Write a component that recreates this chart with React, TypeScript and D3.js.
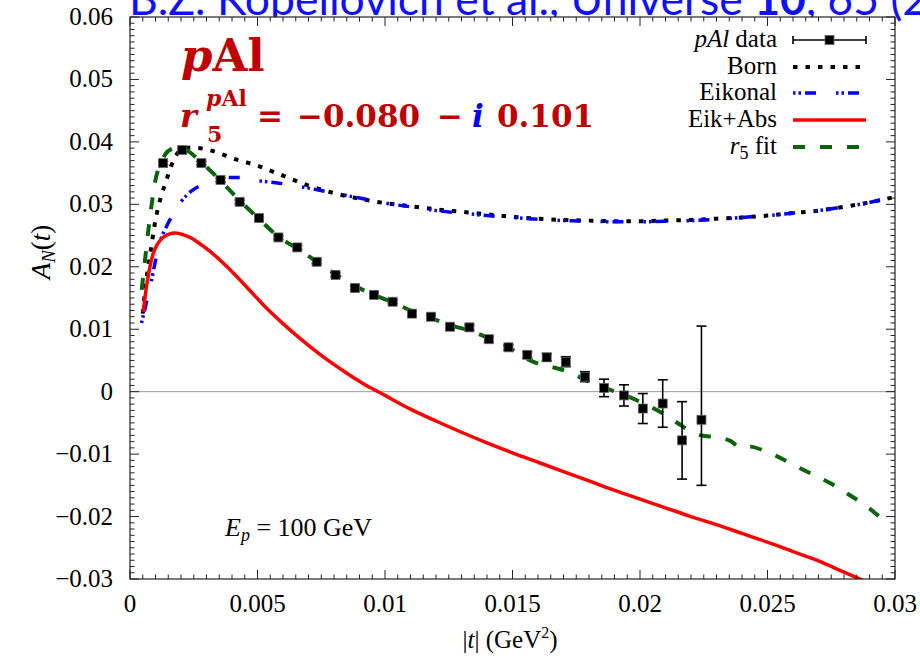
import React from "react";
import * as d3 from "d3";

const WIDTH = 920;
const HEIGHT = 661;
const PLOT = { left: 130, right: 895, top: 17, bottom: 579 };

const xTickValues = [0, 0.005, 0.01, 0.015, 0.02, 0.025, 0.03];
const xTickLabels = ["0", "0.005", "0.01", "0.015", "0.02", "0.025", "0.03"];
const yTickValues = [-0.03, -0.02, -0.01, 0, 0.01, 0.02, 0.03, 0.04, 0.05, 0.06];
const yTickLabels = ["−0.03", "−0.02", "−0.01", "0", "0.01", "0.02", "0.03", "0.04", "0.05", "0.06"];

// pAl measurements: |t|, A_N, lower and upper error
const dataT = [
  0.0013, 0.00205, 0.0028, 0.00355, 0.0043, 0.00506, 0.00582, 0.00656, 0.00732, 0.00806,
  0.00882, 0.00957, 0.0103, 0.01106, 0.0118, 0.01255, 0.01331, 0.01407, 0.01484, 0.01558,
  0.01634, 0.01709, 0.01784, 0.01859, 0.01937, 0.02011, 0.02089, 0.02165, 0.02241,
];
const dataA = [
  0.0366, 0.0387, 0.0366, 0.0339, 0.0304, 0.0278, 0.0247, 0.0231, 0.0208, 0.0187,
  0.0166, 0.0155, 0.0144, 0.0125, 0.012, 0.0104, 0.0103, 0.0084, 0.0071, 0.0059,
  0.0055, 0.0048, 0.0024, 0.0006, -0.0006, -0.0027, -0.0019, -0.0078, -0.0045,
];
const dataErrLo = [
  0.0003, 0.0003, 0.0003, 0.0003, 0.0003, 0.0003, 0.0003, 0.0003, 0.0003, 0.0003,
  0.0003, 0.0003, 0.0003, 0.0003, 0.0003, 0.0003, 0.0004, 0.0004, 0.0004, 0.0005,
  0.0006, 0.0008, 0.0008, 0.0014, 0.0017, 0.0024, 0.0038, 0.0062, 0.0105,
];
const dataErrHi = [
  0.0003, 0.0003, 0.0003, 0.0003, 0.0003, 0.0003, 0.0003, 0.0003, 0.0003, 0.0003,
  0.0003, 0.0003, 0.0003, 0.0003, 0.0003, 0.0003, 0.0004, 0.0004, 0.0004, 0.0005,
  0.0006, 0.0008, 0.0008, 0.0014, 0.0017, 0.0024, 0.0038, 0.0062, 0.015,
];

// Born approximation
const bornT = [
  0.0005, 0.0006, 0.0008, 0.001, 0.0012, 0.0014, 0.0016, 0.0018, 0.002, 0.0024,
  0.003, 0.0035, 0.004, 0.0045, 0.005, 0.0055, 0.006, 0.007, 0.008, 0.009,
  0.01, 0.011, 0.012, 0.013, 0.014, 0.015, 0.016, 0.017, 0.018, 0.019,
  0.02, 0.021, 0.022, 0.023, 0.024, 0.025, 0.026, 0.027, 0.028, 0.029, 0.0299,
];
const bornA = [
  0.0125, 0.0165, 0.0222, 0.0275, 0.031, 0.0335, 0.036, 0.0378, 0.0387, 0.0391,
  0.0388, 0.0382, 0.0374, 0.0368, 0.0362, 0.0354, 0.0346, 0.033, 0.0318, 0.0309,
  0.0302, 0.0297, 0.0292, 0.0288, 0.0284, 0.028, 0.0277, 0.0275, 0.0274, 0.0273,
  0.0273, 0.0274, 0.0275, 0.0277, 0.0279, 0.0282, 0.0286, 0.029, 0.0296, 0.0303, 0.0311,
];

// Eikonal
const eikT = [
  0.00045, 0.0006, 0.0008, 0.001, 0.0012, 0.0014, 0.0017, 0.002, 0.0024, 0.0028,
  0.0033, 0.0038, 0.0043, 0.005, 0.006, 0.007, 0.008, 0.009, 0.01, 0.011,
  0.012, 0.013, 0.014, 0.015, 0.016, 0.017, 0.018, 0.019, 0.02, 0.021,
  0.022, 0.023, 0.024, 0.025, 0.026, 0.027, 0.028, 0.029, 0.0299,
];
const eikA = [
  0.011, 0.0135, 0.017, 0.021, 0.0243, 0.0262, 0.0285, 0.0304, 0.0321, 0.0331,
  0.034, 0.0343, 0.0343, 0.0338, 0.0333, 0.0326, 0.0318, 0.031, 0.0302, 0.0296,
  0.029, 0.0286, 0.0282, 0.0279, 0.0276, 0.0274, 0.0273, 0.0272, 0.0272, 0.0273,
  0.0274, 0.0276, 0.0279, 0.0282, 0.0286, 0.029, 0.0296, 0.0303, 0.0312,
];

// Eikonal + absorption
const absT = [
  0.00052, 0.0006, 0.0007, 0.00078, 0.0009, 0.0011, 0.0013, 0.0015, 0.0018, 0.0021,
  0.0024, 0.0027, 0.0031, 0.0036, 0.0041, 0.0047, 0.0053, 0.006, 0.0067, 0.0075,
  0.0083, 0.0091, 0.01, 0.011, 0.012, 0.013, 0.014, 0.015, 0.016, 0.017,
  0.018, 0.019, 0.02, 0.021, 0.022, 0.023, 0.024, 0.025, 0.026, 0.027, 0.028, 0.0289,
];
const absA = [
  0.0128, 0.0155, 0.0182, 0.02, 0.022, 0.0238, 0.0247, 0.0252, 0.0254, 0.0251,
  0.0246, 0.0238, 0.0226, 0.0208, 0.0188, 0.0162, 0.0136, 0.0109, 0.0084, 0.0058,
  0.0035, 0.0014, -0.0006, -0.0028, -0.0047, -0.0065, -0.0082, -0.0098, -0.0113, -0.0128,
  -0.0143, -0.0158, -0.0172, -0.0186, -0.02, -0.0213, -0.0227, -0.0241, -0.0256, -0.0271, -0.0289, -0.0305,
];

// r5 fit
const fitT = [
  0.00046, 0.0006, 0.00072, 0.00085, 0.001, 0.0012, 0.0014, 0.0016, 0.0019, 0.0022,
  0.0028, 0.0035, 0.0043, 0.005, 0.0058, 0.0066, 0.0073, 0.008, 0.0088, 0.0095,
  0.0103, 0.011, 0.0118, 0.0126, 0.0133, 0.014, 0.0148, 0.0155, 0.016, 0.0166,
  0.0173, 0.018, 0.0187, 0.0193, 0.0201, 0.0209, 0.0215, 0.022, 0.0224, 0.023,
  0.0235, 0.024, 0.0243, 0.0249, 0.0255, 0.0261, 0.0267, 0.0272, 0.0277, 0.0282,
  0.0288, 0.0295,
];
const fitA = [
  0.0163, 0.0215, 0.0259, 0.03, 0.0339, 0.0365, 0.0381, 0.0388, 0.0391, 0.0387,
  0.0367, 0.034, 0.0306, 0.0279, 0.0249, 0.0228, 0.0209, 0.019, 0.017, 0.0156,
  0.0143, 0.013, 0.0118, 0.0106, 0.0098, 0.0087, 0.0072, 0.0054, 0.0045, 0.0039,
  0.003, 0.0016, 0.0005, -0.0004, -0.0018, -0.0035, -0.0051, -0.0064, -0.007, -0.0073,
  -0.0078, -0.009, -0.0088, -0.0095, -0.0106, -0.0119, -0.0131, -0.0141, -0.0152, -0.0165,
  -0.0181, -0.0204,
];

const BLUE = "#0000ff";
const TITLE_BLUE = "#1010ff";
const RED = "#ff0000";
const GREEN = "#0b640b";
const DARKRED = "#c00000";
const SERIF = "'Liberation Serif', 'Times New Roman', serif";
const MATHBOLD = "'DejaVu Serif', serif";

const x = d3.scaleLinear().domain([0, 0.03]).range([PLOT.left, PLOT.right]);
const y = d3.scaleLinear().domain([-0.03, 0.06]).range([PLOT.bottom, PLOT.top]);

const line = d3
  .line<[number, number]>()
  .x((d) => x(d[0]))
  .y((d) => y(d[1]))
  .curve(d3.curveMonotoneX);

const zip = (a: number[], b: number[]) => a.map((v, i) => [v, b[i]] as [number, number]);

const isMajor = (v: number, step: number) => Math.abs(v / step - Math.round(v / step)) < 1e-6;
const xMinor = d3.range(0, 0.03 + 1e-9, 0.0005).filter((v) => !isMajor(v, 0.005));
const yMinor = d3.range(-0.03, 0.06 + 1e-9, 0.001).filter((v) => !isMajor(v, 0.01));

const curveStyles = {
  born: { stroke: "#000", strokeWidth: 4, dash: "4.5,8" },
  eik: { stroke: BLUE, strokeWidth: 3.5, dash: "2.5,3,2.5,4,11,20" },
  abs: { stroke: RED, strokeWidth: 3.5, dash: undefined as string | undefined },
  fit: { stroke: GREEN, strokeWidth: 4, dash: "12,15" },
};

export default function App() {
  const MAJ = 9;
  const MIN = 4.5;
  const legendX0 = 793;
  const legendX1 = 866;
  const legendTextX = 777;
  const legendRows = [40, 67, 93, 120, 147];

  return (
    <svg
      width={WIDTH}
      height={HEIGHT}
      viewBox={`0 0 ${WIDTH} ${HEIGHT}`}
      style={{ position: "absolute", left: 0, top: 0, background: "#fff" }}
    >
      <defs>
        <clipPath id="plot-area">
          <rect x={PLOT.left} y={PLOT.top} width={PLOT.right - PLOT.left} height={PLOT.bottom - PLOT.top} />
        </clipPath>
      </defs>

      {/* citation banner, partly hidden behind the frame */}
      <text x={129} y={15} fontFamily="Lato, 'Open Sans', sans-serif" fontSize={44.5} fill={TITLE_BLUE}>
        B.Z. Kopeliovich et al., Universe <tspan fontWeight="bold">10</tspan>, 65 (2024)
      </text>
      <rect x={PLOT.left} y={PLOT.top} width={PLOT.right - PLOT.left} height={PLOT.bottom - PLOT.top} fill="#fff" />

      {/* zero line */}
      <line x1={PLOT.left} x2={PLOT.right} y1={y(0)} y2={y(0)} stroke="#9a9a9a" strokeWidth={1} />

      {/* model curves */}
      <g clipPath="url(#plot-area)" fill="none">
        <path d={line(zip(bornT, bornA)) || ""} stroke={curveStyles.born.stroke} strokeWidth={curveStyles.born.strokeWidth} strokeDasharray={curveStyles.born.dash} />
        <path d={line(zip(eikT, eikA)) || ""} stroke={curveStyles.eik.stroke} strokeWidth={curveStyles.eik.strokeWidth} strokeDasharray={curveStyles.eik.dash} />
        <path d={line(zip(absT, absA)) || ""} stroke={curveStyles.abs.stroke} strokeWidth={curveStyles.abs.strokeWidth} />
        <path d={line(zip(fitT, fitA)) || ""} stroke={curveStyles.fit.stroke} strokeWidth={curveStyles.fit.strokeWidth} strokeDasharray={curveStyles.fit.dash} />
      </g>

      {/* measurements */}
      <g>
        {dataT.map((t, i) => {
          const cx = x(t);
          const cy = y(dataA[i]);
          const yLo = y(dataA[i] - dataErrLo[i]);
          const yHi = y(dataA[i] + dataErrHi[i]);
          return (
            <g key={i}>
              <line x1={cx} x2={cx} y1={yLo} y2={yHi} stroke="#000" strokeWidth={1.6} />
              <line x1={cx - 5} x2={cx + 5} y1={yLo} y2={yLo} stroke="#000" strokeWidth={1.6} />
              <line x1={cx - 5} x2={cx + 5} y1={yHi} y2={yHi} stroke="#000" strokeWidth={1.6} />
              <rect x={cx - 4.5} y={cy - 4.5} width={9} height={9} fill="#000" stroke="#666" strokeWidth={0.8} />
            </g>
          );
        })}
      </g>

      {/* frame and ticks */}
      <g stroke="#222" strokeWidth={1}>
        <rect x={PLOT.left} y={PLOT.top} width={PLOT.right - PLOT.left} height={PLOT.bottom - PLOT.top} fill="none" strokeWidth={1.2} />
        {xTickValues.map((v) => (
          <g key={`xm${v}`}>
            <line x1={x(v)} x2={x(v)} y1={PLOT.bottom} y2={PLOT.bottom - MAJ} />
            <line x1={x(v)} x2={x(v)} y1={PLOT.top} y2={PLOT.top + MAJ} />
          </g>
        ))}
        {xMinor.map((v) => (
          <g key={`xn${v}`}>
            <line x1={x(v)} x2={x(v)} y1={PLOT.bottom} y2={PLOT.bottom - MIN} />
            <line x1={x(v)} x2={x(v)} y1={PLOT.top} y2={PLOT.top + MIN} />
          </g>
        ))}
        {yTickValues.map((v) => (
          <g key={`ym${v}`}>
            <line x1={PLOT.left} x2={PLOT.left + MAJ} y1={y(v)} y2={y(v)} />
            <line x1={PLOT.right} x2={PLOT.right - MAJ} y1={y(v)} y2={y(v)} />
          </g>
        ))}
        {yMinor.map((v) => (
          <g key={`yn${v}`}>
            <line x1={PLOT.left} x2={PLOT.left + MIN} y1={y(v)} y2={y(v)} />
            <line x1={PLOT.right} x2={PLOT.right - MIN} y1={y(v)} y2={y(v)} />
          </g>
        ))}
      </g>

      {/* tick labels */}
      <g fontFamily={SERIF} fontSize={25} fill="#000">
        {xTickValues.map((v, i) => (
          <text key={`xl${v}`} x={x(v)} y={612} textAnchor="middle">
            {xTickLabels[i]}
          </text>
        ))}
        {yTickValues.map((v, i) => (
          <text key={`yl${v}`} x={113} y={y(v) + 8} textAnchor="end">
            {yTickLabels[i]}
          </text>
        ))}
      </g>

      {/* axis titles */}
      <text x={510} y={648} textAnchor="middle" fontFamily={SERIF} fontSize={25}>
        |<tspan fontStyle="italic">t</tspan>| (GeV<tspan fontSize={16} dy={-10}>2</tspan><tspan dy={10}>)</tspan>
      </text>
      <text transform="translate(50,252) rotate(-90)" textAnchor="middle" fontFamily={SERIF} fontSize={27}>
        <tspan fontStyle="italic">A</tspan>
        <tspan fontStyle="italic" fontSize={19} dy={5}>N</tspan>
        <tspan dy={-5}>(</tspan>
        <tspan fontStyle="italic">t</tspan>)
      </text>

      {/* beam energy */}
      <text x={225} y={536} fontFamily={SERIF} fontSize={26}>
        <tspan fontStyle="italic">E</tspan>
        <tspan fontStyle="italic" fontSize={18} dy={5}>p</tspan>
        <tspan dy={-5}> = 100 GeV</tspan>
      </text>

      {/* legend */}
      <g fontFamily={SERIF} fontSize={25} textAnchor="end">
        <text x={legendTextX} y={legendRows[0] + 7}>
          <tspan fontStyle="italic">pAl</tspan> data
        </text>
        <text x={legendTextX} y={legendRows[1] + 7}>Born</text>
        <text x={legendTextX} y={legendRows[2] + 7}>Eikonal</text>
        <text x={legendTextX} y={legendRows[3] + 7}>Eik+Abs</text>
        <text x={legendTextX} y={legendRows[4] + 7}>
          <tspan fontStyle="italic">r</tspan>
          <tspan fontSize={18} dy={5}>5</tspan>
          <tspan dy={-5}> fit</tspan>
        </text>
      </g>
      <g fill="none">
        <line x1={legendX0} x2={legendX1} y1={legendRows[0]} y2={legendRows[0]} stroke="#000" strokeWidth={1.6} />
        <line x1={legendX0} x2={legendX0} y1={legendRows[0] - 4} y2={legendRows[0] + 4} stroke="#000" strokeWidth={1.6} />
        <line x1={legendX1} x2={legendX1} y1={legendRows[0] - 4} y2={legendRows[0] + 4} stroke="#000" strokeWidth={1.6} />
        <rect x={(legendX0 + legendX1) / 2 - 4.5} y={legendRows[0] - 4.5} width={9} height={9} fill="#000" stroke="#666" strokeWidth={0.8} />
        <line x1={legendX0} x2={legendX1} y1={legendRows[1]} y2={legendRows[1]} stroke={curveStyles.born.stroke} strokeWidth={curveStyles.born.strokeWidth} strokeDasharray={curveStyles.born.dash} />
        <line x1={legendX0} x2={legendX1} y1={legendRows[2]} y2={legendRows[2]} stroke={curveStyles.eik.stroke} strokeWidth={curveStyles.eik.strokeWidth} strokeDasharray={curveStyles.eik.dash} />
        <line x1={legendX0} x2={legendX1} y1={legendRows[3]} y2={legendRows[3]} stroke={curveStyles.abs.stroke} strokeWidth={curveStyles.abs.strokeWidth} />
        <line x1={legendX0} x2={legendX1} y1={legendRows[4]} y2={legendRows[4]} stroke={curveStyles.fit.stroke} strokeWidth={curveStyles.fit.strokeWidth} strokeDasharray={curveStyles.fit.dash} />
      </g>

      {/* fitted r5 parameter */}
      <g fontFamily={MATHBOLD} fontWeight="bold" fill={DARKRED}>
        <text x={181} y={71} fontSize={45}>
          <tspan fontStyle="italic">p</tspan>Al
        </text>
        <text x={180} y={127} fontSize={32} fontStyle="italic">r</text>
        <text x={206} y={106} fontSize={22}>
          <tspan fontStyle="italic">p</tspan>Al
        </text>
        <text x={207} y={142} fontSize={22}>5</text>
        <text x={257} y={127} fontSize={31}>=</text>
        <text x={297} y={127} fontSize={31}>−0.080</text>
        <text x={437} y={127} fontSize={31}>−</text>
        <text x={472} y={127} fontSize={31} fontStyle="italic" fill={BLUE}>i</text>
        <text x={497} y={127} fontSize={31}>0.101</text>
      </g>
    </svg>
  );
}
